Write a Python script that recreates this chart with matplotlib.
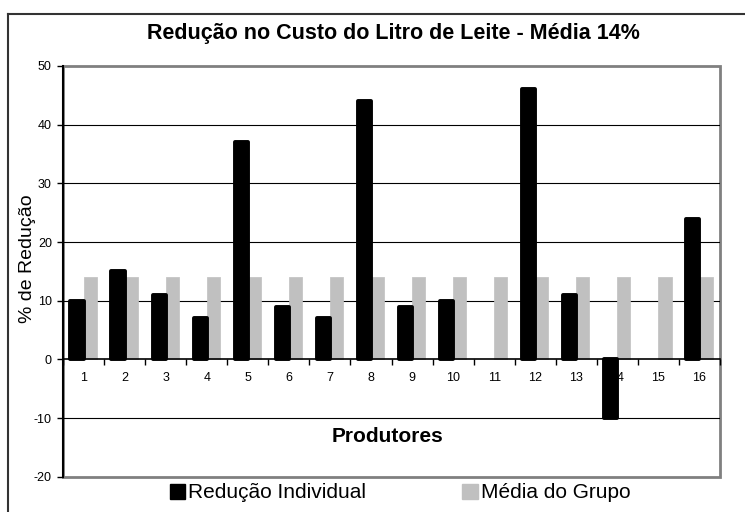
import numpy as np
import matplotlib
matplotlib.use('Agg')
from matplotlib import pyplot as plt
from matplotlib.patches import Rectangle, Patch
from matplotlib.lines import Line2D

produtores = [str(i) for i in range(1, 17)]
reducao_individual = [10, 15, 11, 7, 37, 9, 7, 44, 9, 10, 0, 46, 11, -10, 0, 24]
media_grupo = [14] * 16

plt.rcParams['font.family'] = ['Liberation Sans', 'DejaVu Sans']
plt.rcParams['axes.unicode_minus'] = False

fig = plt.figure(figsize=(7.45, 5.12), dpi=100)
ax = fig.add_axes([63 / 745, 1 - 476.7 / 512, (720 - 63) / 745, (476.7 - 66) / 512])

x = np.arange(1, 17)
width = 0.32

# Bars (no outline where the value is zero)
ax.bar(x + width / 2, media_grupo, width, color='#C0C0C0', edgecolor='#C0C0C0',
       linewidth=0.5, joinstyle='round', zorder=2)
ax.bar(x - width / 2, reducao_individual, width, color='black', edgecolor='black',
       linewidth=[2.8 if v != 0 else 0 for v in reducao_individual],
       joinstyle='round', zorder=3)

ax.set_xlim(0.5, 16.5)
ax.set_ylim(-20, 50)

# Grid lines
for g in [-10, 10, 20, 30, 40]:
    ax.axhline(g, color='black', linewidth=0.8, zorder=1)

# Spines: category axis crosses at zero
for s in ['top', 'right']:
    ax.spines[s].set_visible(False)
ax.spines['bottom'].set_position(('data', 0))
ax.spines['bottom'].set_color('black')
ax.spines['bottom'].set_linewidth(1.2)
ax.spines['left'].set_color('black')
ax.spines['left'].set_linewidth(1.5)
ax.add_patch(Rectangle((0, 0), 1, 1, transform=ax.transAxes, fill=False,
                       edgecolor='#808080', linewidth=2, zorder=0.8, clip_on=False))

ax.set_yticks(range(-20, 51, 10))
ax.tick_params(axis='y', direction='out', length=4, width=1, labelsize=9, pad=4)

ax.set_xticks(np.arange(0.5, 17, 1))
ax.set_xticklabels([])
ax.set_xticks(x, minor=True)
ax.set_xticklabels(produtores, minor=True)
ax.tick_params(axis='x', which='major', direction='out', length=4, width=1)
ax.tick_params(axis='x', which='minor', length=0, labelsize=9, pad=9)

# Texts
fig.text(393 / 745, 1 - 33 / 512, 'Redução no Custo do Litro de Leite - Média 14%',
         ha='center', va='center', fontsize=15.5, fontweight='bold')
fig.text(388 / 745, 1 - 437 / 512, 'Produtores', ha='center', va='center',
         fontsize=15, fontweight='bold')
fig.text(27 / 745, 1 - 259 / 512, '% de Redução', ha='center', va='center',
         rotation=90, fontsize=14)

handles = [Patch(facecolor='black', edgecolor='black'),
           Patch(facecolor='#C0C0C0', edgecolor='#C0C0C0')]
fig.legend(handles, ['Redução Individual', 'Média do Grupo'], loc='center',
           bbox_to_anchor=(400 / 745, 1 - 493 / 512), ncol=2, frameon=False,
           fontsize=15, handlelength=0.75, handleheight=0.75, handletextpad=0.15,
           columnspacing=4.6, borderpad=0)

# Outer chart border (cut at right and bottom)
fig.add_artist(Line2D([8 / 745, 1], [1 - 14 / 512, 1 - 14 / 512], color='#333333',
                      linewidth=1.5, transform=fig.transFigure))
fig.add_artist(Line2D([8 / 745, 8 / 745], [0, 1 - 14 / 512], color='#333333',
                      linewidth=1.5, transform=fig.transFigure))

plt.savefig('out.png', dpi=100)
